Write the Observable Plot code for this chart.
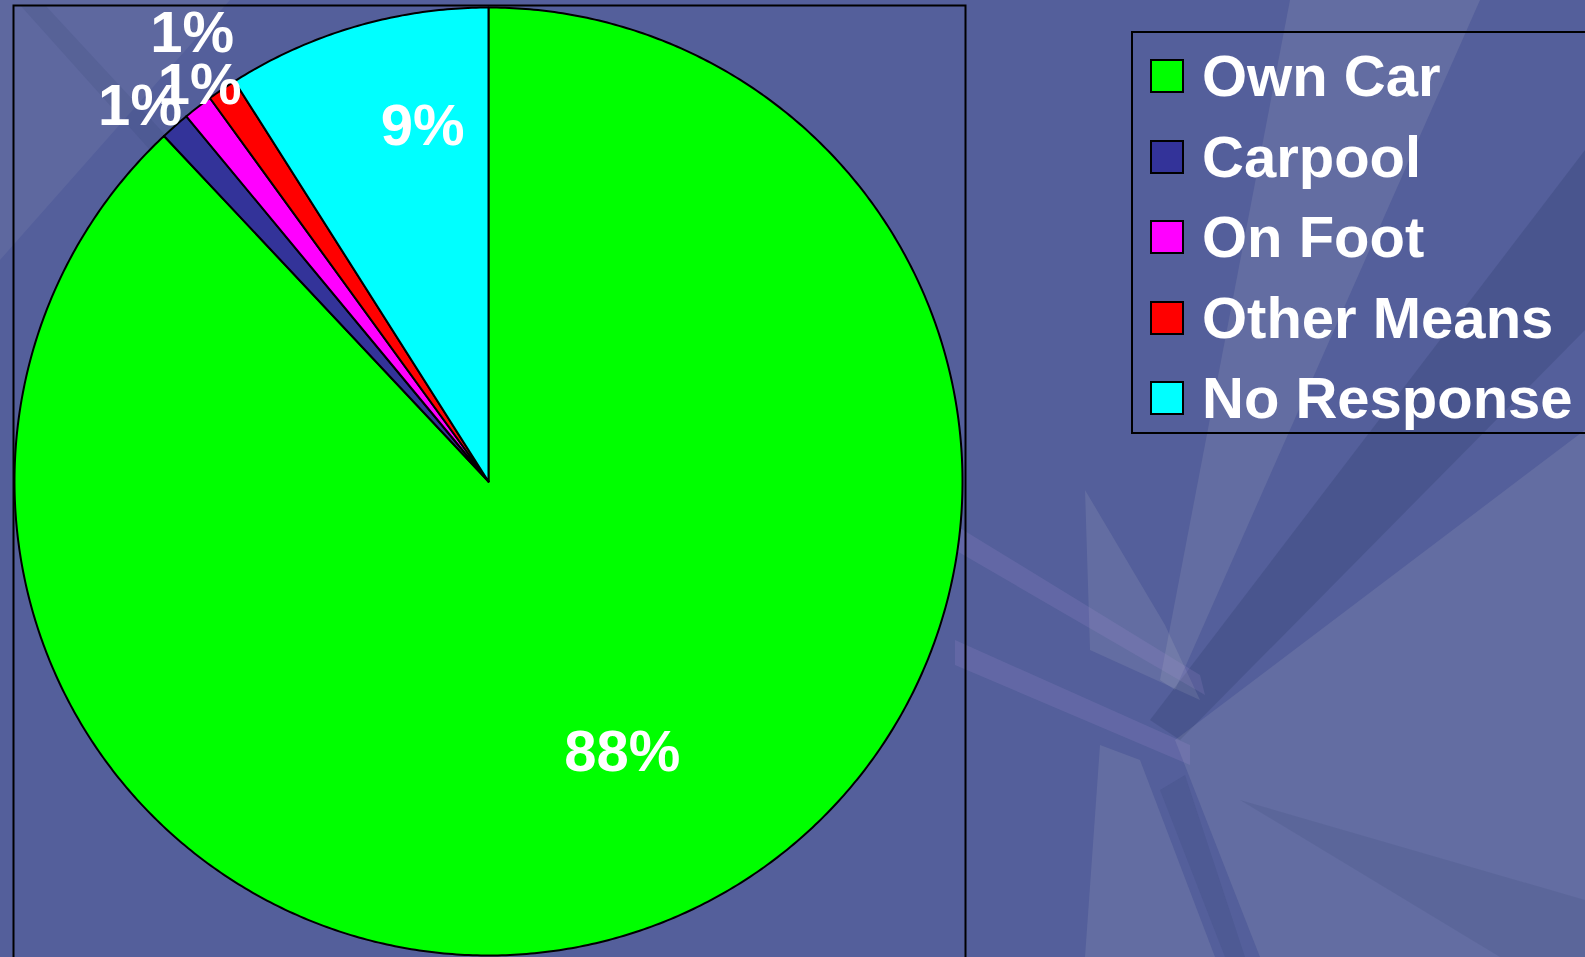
<!DOCTYPE html>
<html>
<head>
<meta charset="utf-8">
<script src="https://cdn.jsdelivr.net/npm/d3@7"></script>
<script src="https://cdn.jsdelivr.net/npm/@observablehq/plot@0.6"></script>
<style>
html, body { margin: 0; padding: 0; width: 1585px; height: 957px; overflow: hidden; }
body {
  background-color: #545f9b;
  font-family: "Liberation Sans", Arial, Helvetica, sans-serif;
}
.deco { position: absolute; left: 0; top: 0; width: 1585px; height: 957px; }
.lt { background: rgba(255,255,235,0.09); }
.lt2 { background: rgba(255,255,235,0.06); }
.dk { background: rgba(30,45,85,0.18); }
.dk2 { background: rgba(30,45,85,0.10); }
.pu { background: rgba(175,150,215,0.16); }
#chart { position: absolute; left: 0; top: 0; }
#legend {
  position: absolute; left: 1131px; top: 31px; width: 480px; height: 403px;
  box-sizing: border-box; border: 2px solid #000; padding-top: 3px; padding-left: 17px;
}
.row { display: flex; align-items: center; height: 80.5px; }
.sw { width: 34px; height: 34px; box-sizing: border-box; border: 2px solid #000; margin-right: 18px; flex-shrink: 0; }
.lab { color: #fff; font-weight: bold; font-size: 58px; white-space: nowrap; line-height: 1; }
</style>
</head>
<body>
<!-- decorative background shapes (not data) -->
<div class="deco lt" style="clip-path: polygon(1290px 0, 1480px 0, 1175px 690px, 1160px 680px)"></div>
<div class="deco dk" style="clip-path: polygon(1585px 150px, 1585px 330px, 1180px 740px, 1150px 720px)"></div>
<div class="deco lt" style="clip-path: polygon(1175px 740px, 1585px 430px, 1585px 957px, 1260px 957px)"></div>
<div class="deco lt" style="clip-path: polygon(1085px 490px, 1165px 625px, 1200px 700px, 1090px 650px)"></div>
<div class="deco lt" style="clip-path: polygon(1100px 745px, 1140px 760px, 1215px 957px, 1085px 957px)"></div>
<div class="deco dk2" style="clip-path: polygon(1160px 790px, 1185px 775px, 1245px 957px, 1225px 957px)"></div>
<div class="deco dk2" style="clip-path: polygon(1240px 800px, 1585px 900px, 1585px 957px, 1500px 957px)"></div>
<div class="deco pu" style="clip-path: polygon(955px 525px, 1200px 675px, 1205px 695px, 955px 550px)"></div>
<div class="deco pu" style="clip-path: polygon(955px 640px, 1190px 745px, 1190px 765px, 955px 665px)"></div>
<div class="deco lt2" style="clip-path: polygon(0 0, 230px 0, 0 260px)"></div>
<div class="deco dk2" style="clip-path: polygon(20px 5px, 45px 5px, 170px 140px, 150px 150px)"></div>

<div id="chart"></div>
<div id="legend"></div>
<script>
// ---- data ----
const categories = ["Own Car", "Carpool", "On Foot", "Other Means", "No Response"];
const percents = [88, 1, 1, 1, 9];
const colors = ["#00ff00", "#333399", "#ff00ff", "#ff0000", "#00ffff"];
const pctLabels = ["88%", "1%", "1%", "1%", "9%"];

// ---- label placement (angle nudge in degrees, radius as fraction of pie radius) ----
const labelPlacement = [[-4.7, 0.637], [-1.5, 1.08], [1.7, 1.034], [0.7, 1.133], [5.7, 0.762]];

const total = d3.sum(percents);
const slices = [];
const labelData = [];
let acc = 0;
categories.forEach((c, i) => {
  const a0 = acc / total * 2 * Math.PI;
  acc += percents[i];
  const a1 = acc / total * 2 * Math.PI;
  const n = Math.max(2, Math.ceil((a1 - a0) / (Math.PI / 360)));
  slices.push({cat: c, x: 0, y: 0});
  for (let k = 0; k <= n; k++) {
    const a = a0 + (a1 - a0) * k / n;
    slices.push({cat: c, x: Math.sin(a), y: Math.cos(a)});
  }
  slices.push({cat: c, x: 0, y: 0});
  const [nudge, rf] = labelPlacement[i];
  const am = (a0 + a1) / 2 + nudge * Math.PI / 180;
  labelData.push({cat: c, text: pctLabels[i], x: rf * Math.sin(am), y: rf * Math.cos(am)});
});

const chart = Plot.plot({
  width: 1585,
  height: 970,
  marginLeft: 13,
  marginTop: 5,
  marginRight: 620,
  marginBottom: 0,
  style: {background: "transparent", overflow: "visible"},
  x: {domain: [-1, 1], range: [14, 962], axis: null},
  y: {domain: [-1, 1], range: [955, 7], axis: null},
  color: {domain: categories, range: colors},
  marks: [
    Plot.frame({stroke: "#000", strokeWidth: 2}),
    Plot.line(slices, {x: "x", y: "y", z: "cat", fill: "cat", stroke: "#000", strokeWidth: 2, strokeLinejoin: "round"}),
    Plot.text(labelData, {x: "x", y: "y", text: "text", fill: "#fff", fontSize: 58, fontWeight: "bold",
      fontFamily: "Liberation Sans, Arial, Helvetica, sans-serif"})
  ]
});
document.getElementById("chart").appendChild(chart);

// ---- legend ----
const legend = document.getElementById("legend");
categories.forEach((c, i) => {
  const row = document.createElement("div");
  row.className = "row";
  const sw = document.createElement("div");
  sw.className = "sw";
  sw.style.background = colors[i];
  const lab = document.createElement("span");
  lab.className = "lab";
  lab.textContent = c;
  row.appendChild(sw);
  row.appendChild(lab);
  legend.appendChild(row);
});
</script>
</body>
</html>
